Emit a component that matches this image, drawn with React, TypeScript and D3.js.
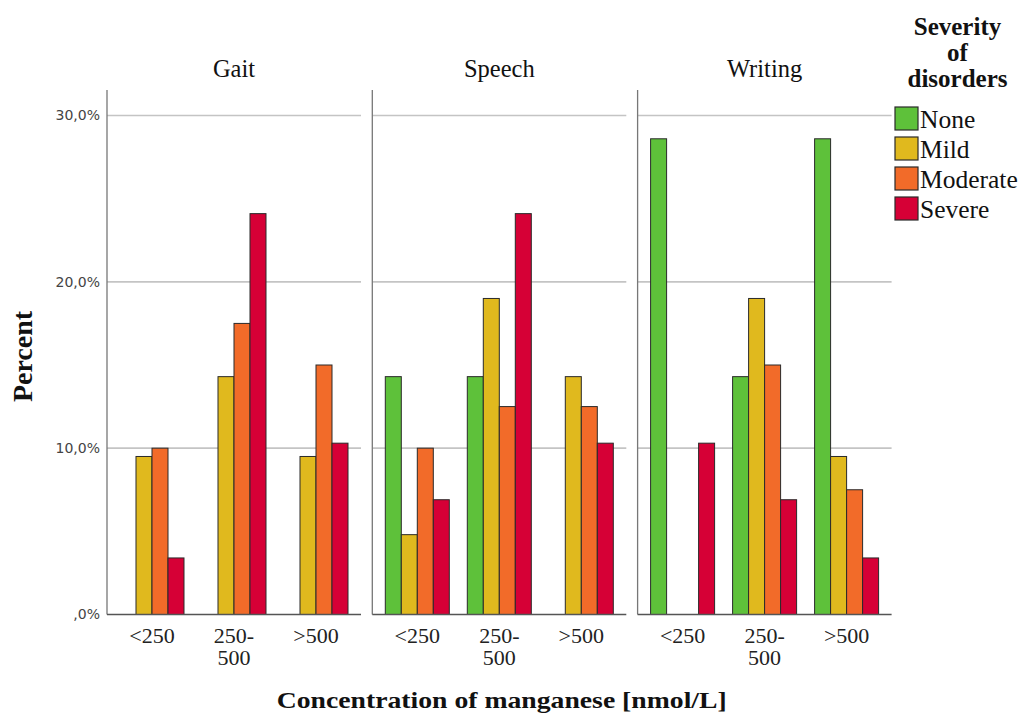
import React from 'react';
import * as d3 from 'd3';

// Concentration groups on the x axis of each panel
const categories = ['<250', '250-500', '>500'];
const categoryLines = [['<250'], ['250-', '500'], ['>500']];

// Severity series, legend order
const severities = ['None', 'Mild', 'Moderate', 'Severe'];
const severityColors = ['#5ec13a', '#e0b91e', '#f26b29', '#d60036'];

const panels = ['Gait', 'Speech', 'Writing'];

// Percent per severity (rows) and concentration group (columns)
const gaitValues = [
  [0, 0, 0],
  [9.5, 14.3, 9.5],
  [10.0, 17.5, 15.0],
  [3.4, 24.1, 10.3],
];
const speechValues = [
  [14.3, 14.3, 0],
  [4.8, 19.0, 14.3],
  [10.0, 12.5, 12.5],
  [6.9, 24.1, 10.3],
];
const writingValues = [
  [28.6, 14.3, 28.6],
  [0, 19.0, 9.5],
  [0, 15.0, 7.5],
  [10.3, 6.9, 3.4],
];
const panelValues = [gaitValues, speechValues, writingValues];

const yTicks = [0, 10, 20, 30];

const W = 1024;
const H = 715;
const plotTop = 90;
const serif = "'Liberation Serif', 'Times New Roman', serif";
const sans = "'DejaVu Sans', Verdana, sans-serif";

const fmtPct = (v: number) => (v === 0 ? ',0%' : v.toFixed(1).replace('.', ',') + '%');

export default function App() {
  const panelScale = d3
    .scaleBand<string>()
    .domain(panels)
    .range([107, 891.6])
    .paddingInner(0.0426)
    .paddingOuter(0);
  const pw = panelScale.bandwidth();

  const xScale = d3
    .scaleBand<string>()
    .domain(categories)
    .range([0, pw])
    .paddingInner(0.2195)
    .paddingOuter(0.1585);

  const sevScale = d3
    .scaleBand<string>()
    .domain(severities)
    .range([0, xScale.bandwidth()])
    .padding(0);

  const y = d3.scaleLinear().domain([0, 30]).range([614.5, 115.5]);

  return (
    <svg
      width={W}
      height={H}
      viewBox={`0 0 ${W} ${H}`}
      style={{ position: 'absolute', left: 0, top: 0, background: '#fff' }}
    >
      <rect x={0} y={0} width={W} height={H} fill="#fff" />

      {/* y tick labels */}
      {yTicks.map((t) => (
        <text
          key={t}
          x={100}
          y={y(t)}
          dy="0.35em"
          textAnchor="end"
          fontFamily={sans}
          fontSize={14}
          fill="#444"
        >
          {fmtPct(t)}
        </text>
      ))}

      {panels.map((p, pi) => {
        const x0 = panelScale(p)!;
        const values = panelValues[pi];
        return (
          <g key={p} transform={`translate(${x0},0)`}>
            {/* grid lines */}
            {yTicks
              .filter((t) => t > 0)
              .map((t) => (
                <line
                  key={t}
                  x1={0}
                  x2={pw}
                  y1={y(t)}
                  y2={y(t)}
                  stroke="#c4c4c4"
                  strokeWidth={1.6}
                />
              ))}
            {/* bars */}
            {severities.map((s, si) =>
              categories.map((c, ci) => {
                const v = values[si][ci];
                if (!v) return null;
                const bx = xScale(c)! + sevScale(s)!;
                return (
                  <rect
                    key={s + c}
                    x={bx}
                    y={y(v)}
                    width={sevScale.bandwidth()}
                    height={y(0) - y(v)}
                    fill={severityColors[si]}
                    stroke="#2a2a2a"
                    strokeWidth={1}
                  />
                );
              })
            )}
            {/* axes */}
            <line x1={0} x2={0} y1={plotTop} y2={y(0)} stroke="#777" strokeWidth={1.3} />
            <line x1={0} x2={pw} y1={y(0)} y2={y(0)} stroke="#555" strokeWidth={1.3} />
            {/* panel title */}
            <text
              x={pw / 2}
              y={77}
              textAnchor="middle"
              fontFamily={serif}
              fontSize={24.5}
              fill="#111"
            >
              {p}
            </text>
            {/* x tick labels */}
            {categories.map((c, ci) =>
              categoryLines[ci].map((ln, li) => (
                <text
                  key={c + li}
                  x={xScale(c)! + xScale.bandwidth() / 2}
                  y={643 + li * 22}
                  textAnchor="middle"
                  fontFamily={serif}
                  fontSize={22}
                  fill="#222"
                >
                  {ln}
                </text>
              ))
            )}
          </g>
        );
      })}

      {/* axis titles */}
      <text
        transform="translate(31.5,356.5) rotate(-90)"
        textAnchor="middle"
        fontFamily={serif}
        fontWeight="bold"
        fontSize={28}
        fill="#111"
      >
        Percent
      </text>
      <text
        transform="translate(501.7,707.5) scale(1.155,1)"
        textAnchor="middle"
        fontFamily={serif}
        fontWeight="bold"
        fontSize={24}
        fill="#111"
      >
        Concentration of manganese [nmol/L]
      </text>

      {/* legend */}
      <g>
        {['Severity', 'of', 'disorders'].map((ln, i) => (
          <text
            key={ln}
            x={957.5}
            y={35 + i * 26}
            textAnchor="middle"
            fontFamily={serif}
            fontWeight="bold"
            fontSize={25}
            fill="#111"
          >
            {ln}
          </text>
        ))}
        {severities.map((s, i) => (
          <g key={s}>
            <rect
              x={895}
              y={107 + i * 30}
              width={23}
              height={23}
              fill={severityColors[i]}
              stroke="#2a2a2a"
              strokeWidth={1.2}
            />
            <text
              x={920}
              y={128.3 + i * 30}
              fontFamily={serif}
              fontSize={25.5}
              fill="#111"
            >
              {s}
            </text>
          </g>
        ))}
      </g>
    </svg>
  );
}
